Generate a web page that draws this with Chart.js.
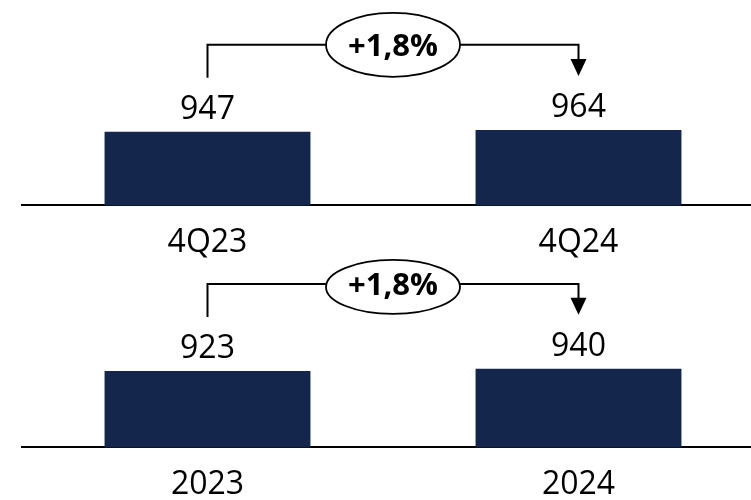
<!DOCTYPE html>
<html>
<head>
<meta charset="utf-8">
<script src="https://cdn.jsdelivr.net/npm/chart.js@4.4.1/dist/chart.umd.min.js"></script>
<style>
  html, body { margin: 0; padding: 0; background: #fff; overflow: hidden; }
  #wrap { position: relative; width: 751px; height: 500px; overflow: hidden; }
  .box { position: absolute; left: 0; width: 764px; height: 291px; }
</style>
</head>
<body>
<div id="wrap">
  <div class="box" style="top:0"><canvas id="quarter"></canvas></div>
  <div class="box" style="top:242px"><canvas id="year"></canvas></div>
</div>
<script>
// data
const quarterLabels = ['4Q23', '4Q24'];
const quarterValues = [947, 964];
const yearLabels = ['2023', '2024'];
const yearValues = [923, 940];
const growthText = ['+1,8%', '+1,8%'];

const navy = '#15264c';
const font = "'Open Sans', 'Noto Sans', sans-serif";

// value labels + bracket with arrow and growth bubble
const bracketPlugin = {
    id: 'bracket',
    afterDatasetsDraw(chart, args, opts) {
        const ctx = chart.ctx;
        const bars = chart.getDatasetMeta(0).data;
        const values = chart.data.datasets[0].data;
        ctx.save();
        ctx.fillStyle = '#000';
        ctx.font = '32px ' + font;
        ctx.textAlign = 'center';
        ctx.textBaseline = 'alphabetic';
        bars.forEach((b, i) => {
            ctx.fillText(values[i], b.x, b.y - 13);
        });

        const a = bars[0], b = bars[1];
        const hy = a.y - 87;
        ctx.strokeStyle = '#000';
        ctx.lineWidth = 2;
        ctx.beginPath();
        ctx.moveTo(a.x, a.y - 54);
        ctx.lineTo(a.x, hy);
        ctx.lineTo(b.x, hy);
        ctx.lineTo(b.x, b.y - 70);
        ctx.stroke();
        // arrow head
        ctx.beginPath();
        ctx.moveTo(b.x - 8, b.y - 71);
        ctx.lineTo(b.x + 8, b.y - 71);
        ctx.lineTo(b.x, b.y - 54);
        ctx.closePath();
        ctx.fill();

        const cx = (a.x + b.x) / 2;
        ctx.beginPath();
        ctx.ellipse(cx, hy + opts.dy, 67, opts.ry, 0, 0, Math.PI * 2);
        ctx.fillStyle = '#fff';
        ctx.fill();
        ctx.lineWidth = 1.8;
        ctx.stroke();

        ctx.fillStyle = '#000';
        ctx.font = 'bold 31px ' + font;
        ctx.textBaseline = 'middle';
        ctx.fillText(opts.text, cx, hy + 2);
        ctx.restore();
    }
};

function barChart(id, labels, values, yMax, text, ry, dy) {
    const data = {
        labels: labels,
        datasets: [{
            data: values,
            backgroundColor: navy,
            categoryPercentage: 1,
            barPercentage: 0.555
        }]
    };

    const config = {
        type: 'bar',
        data: data,
        plugins: [bracketPlugin],
        options: {
            responsive: true,
            maintainAspectRatio: false,
            animation: false,
            layout: { padding: { top: 20, left: 22, right: 0, bottom: 10 } },
            plugins: {
                legend: { display: false },
                tooltip: { enabled: false },
                bracket: { text: text, ry: ry, dy: dy }
            },
            scales: {
                x: {
                    grid: { display: false, drawTicks: false },
                    border: { display: true, color: '#000', width: 2 },
                    ticks: { color: '#000', padding: 18.6, font: { family: font, size: 32 } }
                },
                y: { display: false, min: 300, max: yMax }
            }
        }
    };

    let ch = document.getElementById(id).getContext('2d');
    new Chart(ch, config);
}

barChart('quarter', quarterLabels, quarterValues, 1930, growthText[0], 32, 0);
barChart('year', yearLabels, yearValues, 1810, growthText[1], 27, 3);
</script>
</body>
</html>
